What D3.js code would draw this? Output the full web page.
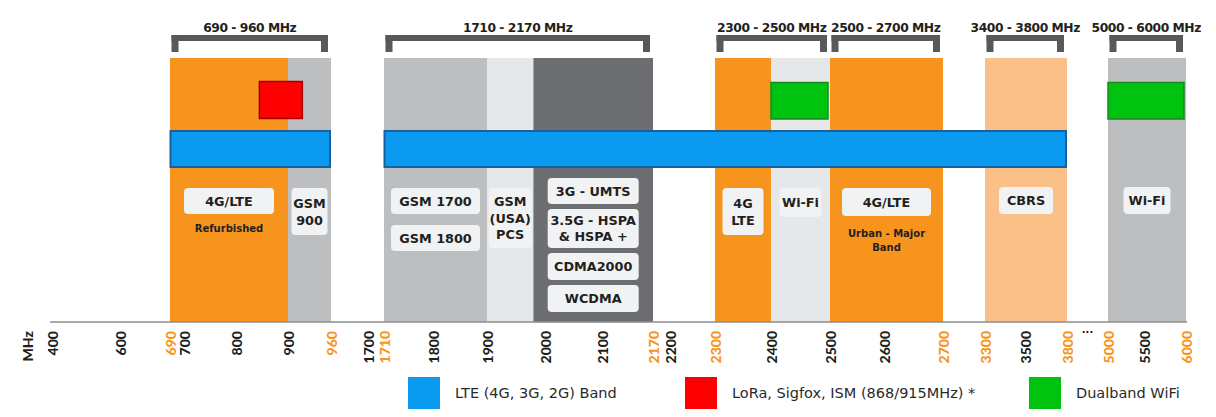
<!DOCTYPE html>
<html>
<head>
<meta charset="utf-8">
<script src="https://cdn.jsdelivr.net/npm/d3@7"></script>
<style>
  html, body { margin: 0; padding: 0; background: #fff; }
  svg { display: block; }
</style>
</head>
<body>
<svg id="chart" width="1216" height="417"></svg>
<script>
// ---------------- DATA ----------------
// Frequency bands (MHz)
const bandStart = [690, 900, 1710, 1900, 1980, 2300, 2400, 2500, 3300, 5000];
const bandEnd   = [900, 960, 1900, 1980, 2170, 2400, 2500, 2700, 3800, 6000];
const bandKind  = ["lte", "gsm", "gsm", "pcs", "umts", "lte", "wifi", "lte", "cbrs", "gsm"];

// LTE (4G, 3G, 2G) coverage bars
const lteStart = [690, 1710];
const lteEnd   = [960, 3800];

// LoRa / Sigfox / ISM box
const ismStart = [845];
const ismEnd   = [920];

// Dual band WiFi boxes
const wifiStart = [2400, 5000];
const wifiEnd   = [2500, 6000];

// Bracketed ranges at the top
const rangeStart  = [690, 1710, 2300, 2500, 3300, 5000];
const rangeEnd    = [960, 2170, 2500, 2700, 3800, 6000];
const rangeLabels = ["690 - 960 MHz", "1710 - 2170 MHz", "2300 - 2500 MHz",
                     "2500 - 2700 MHz", "3400 - 3800 MHz", "5000 - 6000 MHz"];

// Axis tick labels
const tickValues = [400, 600, 690, 700, 800, 900, 960, 1700, 1710, 1800, 1900, 2000,
                    2100, 2170, 2200, 2300, 2400, 2500, 2600, 2700, 3300, 3500, 3800,
                    5000, 5500, 6000];
const edgeTicks  = [690, 960, 1710, 2170, 2300, 2700, 3300, 3800, 5000, 6000];

// Technology labels inside bands
const techBand  = [0, 1, 2, 2, 3, 4, 4, 4, 4, 5, 6, 7, 8, 9];
const techText  = [["4G/LTE"], ["GSM", "900"], ["GSM 1700"], ["GSM 1800"],
                   ["GSM", "(USA)", "PCS"], ["3G - UMTS"], ["3.5G - HSPA", "& HSPA +"],
                   ["CDMA2000"], ["WCDMA"], ["4G", "LTE"], ["Wi-Fi"], ["4G/LTE"],
                   ["CBRS"], ["Wi-Fi"]];
const noteBand  = [0, 7];
const noteText  = [["Refurbished"], ["Urban - Major", "Band"]];

// Legend
const legendLabels = ["LTE (4G, 3G, 2G) Band", "LoRa, Sigfox, ISM (868/915MHz) *", "Dualband WiFi"];
const legendKinds  = ["lteBar", "ism", "wifiBox"];

// ---------------- LAYOUT / STYLE ----------------
// Non-uniform (schematic) frequency axis
const axisBreaks = [400, 600, 690, 700, 800, 900, 960, 1700, 1710, 1800, 1900, 2000, 2100,
                    2170, 2200, 2300, 2400, 2500, 2600, 2700, 3300, 3500, 3800, 5000, 5500, 6000];
const axisPixels = [52, 120, 170, 184, 236, 288, 331, 368, 384, 433, 487, 545, 602,
                    653, 670, 715, 771, 830, 884, 943, 985, 1025, 1067, 1108, 1144, 1186];
const x = d3.scaleLinear().domain(axisBreaks).range(axisPixels);

const colors = {
  lte: "#f7941d", gsm: "#bcbec0", pcs: "#e6e7e8", umts: "#6d6e71", wifi: "#e6e7e8",
  cbrs: "#fbbf88",
  lteBar: "#0a9af0", lteBarStroke: "#1a5f9e",
  ism: "#ff0000", ismStroke: "#a50000",
  wifiBox: "#00c30f", wifiBoxStroke: "#178a1f",
  bracket: "#58595b", labelBox: "#f1f2f4", text: "#231f20", orange: "#f7941d"
};

const bandTop = 58, axisY = 322;
// box layout per tech label: [width, top, height]
const techLayout = [
  [90, 188, 26], [36, 188, 47], [89, 188, 26], [89, 225, 26], [43, 188, 60],
  [91, 178, 26], [91, 209, 39], [91, 253, 27], [91, 285, 27], [41, 188, 47],
  [42, 188, 29], [89, 188, 28], [54, 187, 27], [47, 187, 27]
];
const noteY = [[228], [233, 247]];

const svg = d3.select("#chart");
const boldFont = "'DejaVu Sans', sans-serif";

// ---------------- BANDS ----------------
svg.append("g").selectAll("rect")
  .data(bandStart.map((s, i) => ({ s, e: bandEnd[i], k: bandKind[i] })))
  .join("rect")
  .attr("x", d => x(d.s))
  .attr("y", bandTop)
  .attr("width", d => x(d.e) - x(d.s))
  .attr("height", axisY - bandTop)
  .attr("fill", d => colors[d.k]);

// ---------------- BRACKETS ----------------
const br = svg.append("g");
rangeStart.forEach((s, i) => {
  const x0 = x(s) + 1.5, x1 = x(rangeEnd[i]) - 3;
  const g = br.append("g");
  g.append("rect").attr("x", x0).attr("y", 35).attr("width", x1 - x0).attr("height", 6).attr("fill", colors.bracket);
  g.append("rect").attr("x", x0).attr("y", 35).attr("width", 7).attr("height", 17).attr("fill", colors.bracket);
  g.append("rect").attr("x", x1 - 7).attr("y", 35).attr("width", 7).attr("height", 17).attr("fill", colors.bracket);
  g.append("text")
    .attr("x", (x0 + x1) / 2).attr("y", 32)
    .attr("text-anchor", "middle")
    .attr("font-family", boldFont).attr("font-weight", "bold")
    .attr("font-size", 12.3).attr("fill", colors.text)
    .attr("letter-spacing", -0.45)
    .text(rangeLabels[i]);
});

// ---------------- ISM / WIFI BOXES ----------------
svg.append("g").selectAll("rect")
  .data(ismStart.map((s, i) => ({ s, e: ismEnd[i] })))
  .join("rect")
  .attr("x", d => x(d.s)).attr("y", 81.5)
  .attr("width", d => x(d.e) - x(d.s)).attr("height", 37)
  .attr("fill", colors.ism).attr("stroke", colors.ismStroke).attr("stroke-width", 1.5);

svg.append("g").selectAll("rect")
  .data(wifiStart.map((s, i) => ({ s, e: wifiEnd[i] })))
  .join("rect")
  .attr("x", d => x(d.s)).attr("y", 82.5)
  .attr("width", d => x(d.e) - x(d.s) - 2).attr("height", 36.5)
  .attr("fill", colors.wifiBox).attr("stroke", colors.wifiBoxStroke).attr("stroke-width", 1.5);

// ---------------- LTE BARS ----------------
svg.append("g").selectAll("rect")
  .data(lteStart.map((s, i) => ({ s, e: lteEnd[i] })))
  .join("rect")
  .attr("x", d => x(d.s) + 0.5).attr("y", 131)
  .attr("width", d => x(d.e) - x(d.s) - 1.5).attr("height", 36)
  .attr("fill", colors.lteBar).attr("stroke", colors.lteBarStroke).attr("stroke-width", 2);

// ---------------- TECH LABEL BOXES ----------------
const tg = svg.append("g");
techText.forEach((lines, i) => {
  const b = techBand[i];
  const cx = (x(bandStart[b]) + x(bandEnd[b])) / 2;
  const [w, top, h] = techLayout[i];
  tg.append("rect")
    .attr("x", cx - w / 2).attr("y", top).attr("width", w).attr("height", h)
    .attr("rx", 4).attr("fill", colors.labelBox);
  const lh = lines.length === 1 ? 0 : (lines.length === 3 ? 16.5 : (h > 42 ? 17 : 16));
  const y0 = top + h / 2 - lh * (lines.length - 1) / 2;
  lines.forEach((t, j) => {
    tg.append("text")
      .attr("x", cx).attr("y", y0 + j * lh)
      .attr("dy", "0.36em")
      .attr("text-anchor", "middle")
      .attr("font-family", boldFont).attr("font-weight", "bold")
      .attr("font-size", 12.8).attr("fill", colors.text)
      .text(t);
  });
});
noteText.forEach((lines, i) => {
  const b = noteBand[i];
  const cx = (x(bandStart[b]) + x(bandEnd[b])) / 2;
  lines.forEach((t, j) => {
    tg.append("text")
      .attr("x", cx).attr("y", noteY[i][j]).attr("dy", "0.36em")
      .attr("text-anchor", "middle")
      .attr("font-family", boldFont).attr("font-weight", "bold")
      .attr("font-size", 10).attr("fill", colors.text)
      .text(t);
  });
});

// ---------------- AXIS ----------------
const axis = d3.axisBottom(x).tickValues(tickValues).tickSize(0).tickFormat(d3.format("d"));
const ag = svg.append("g").attr("transform", `translate(0,${axisY})`).call(axis);
ag.select(".domain").attr("stroke", "#8c8c8c").attr("stroke-width", 1.5)
  .attr("d", `M${x(400) - 2},0H${x(6000) + 1}`);
ag.selectAll(".tick text")
  .attr("transform", "rotate(-90)")
  .attr("x", -9).attr("y", 0).attr("dy", "0.36em")
  .attr("text-anchor", "end")
  .attr("font-family", "Lato, sans-serif").attr("font-weight", "900")
  .attr("font-size", 14)
  .attr("fill", d => edgeTicks.includes(d) ? colors.orange : colors.text);

svg.append("text")
  .attr("transform", `translate(28,${axisY + 9}) rotate(-90)`)
  .attr("dy", "0.36em").attr("text-anchor", "end")
  .attr("font-family", "Lato, sans-serif").attr("font-weight", "900")
  .attr("font-size", 14).attr("fill", colors.text)
  .text("MHz");

svg.append("text")
  .attr("x", (x(3800) + x(5000)) / 2).attr("y", axisY + 11)
  .attr("text-anchor", "middle")
  .attr("font-family", boldFont).attr("font-weight", "bold")
  .attr("font-size", 10).attr("fill", colors.text)
  .text("...");

// ---------------- LEGEND ----------------
const legendX = [408, 685, 1029];
const lg = svg.append("g");
legendLabels.forEach((t, i) => {
  lg.append("rect").attr("x", legendX[i]).attr("y", 377).attr("width", 32).attr("height", 32)
    .attr("fill", colors[legendKinds[i]]);
  lg.append("text").attr("x", legendX[i] + 47).attr("y", 393).attr("dy", "0.36em")
    .attr("font-family", "'DejaVu Sans', sans-serif").attr("font-size", 14.5)
    .attr("fill", "#2a2a2a")
    .text(t);
});
</script>
</body>
</html>
